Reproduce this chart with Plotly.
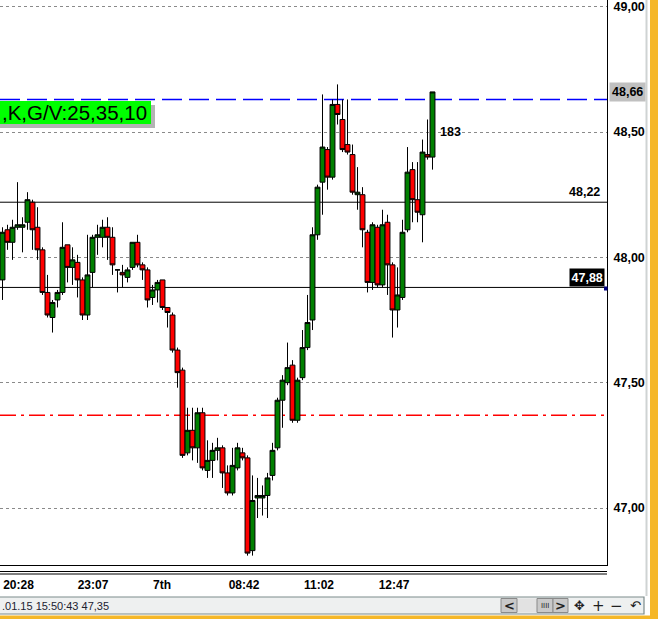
import plotly.graph_objects as go

# ---------------- data ----------------
open_ = [47.91, 48.11, 48.06, 48.12, 48.12, 48.14, 48.22, 48.12, 48.03, 47.86,
         47.76, 47.83, 47.86, 48.05, 47.96, 47.98, 47.91, 47.77, 47.94, 48.08,
         48.08, 48.12, 48.08, 47.95, 47.94, 47.92, 47.96, 48.06, 47.97, 47.95,
         47.84, 47.87, 47.91, 47.80, 47.77, 47.63, 47.55, 47.22, 47.31, 47.24,
         47.38, 47.15, 47.19, 47.23, 47.24, 47.14, 47.06, 47.16, 47.22, 47.20,
         46.83, 47.04, 47.04, 47.05, 47.13, 47.24, 47.43, 47.50, 47.57, 47.35,
         47.52, 47.64, 47.75, 48.09, 48.30, 48.43, 48.32, 48.61, 48.55, 48.45,
         48.41, 48.25, 48.25, 48.10, 47.90, 48.12, 47.89, 48.14, 47.97, 47.79,
         47.84, 48.11, 48.35, 48.23, 48.17, 48.41, 48.40]
high = [48.12, 48.13, 48.15, 48.30, 48.16, 48.26, 48.23, 48.20, 48.04, 47.93,
        47.83, 47.87, 48.14, 48.05, 48.04, 48.01, 47.92, 48.09, 48.09, 48.13,
        48.15, 48.16, 48.12, 47.95, 47.97, 47.96, 48.06, 48.09, 47.98, 47.96,
        47.89, 47.91, 47.91, 47.80, 47.78, 47.64, 47.56, 47.40, 47.40, 47.40,
        47.40, 47.27, 47.26, 47.28, 47.25, 47.17, 47.24, 47.26, 47.24, 47.21,
        47.13, 47.12, 47.09, 47.14, 47.26, 47.44, 47.53, 47.66, 47.59, 47.52,
        47.71, 47.85, 48.12, 48.29, 48.65, 48.44, 48.63, 48.69, 48.63, 48.63,
        48.45, 48.36, 48.28, 48.11, 48.14, 48.13, 48.19, 48.17, 47.98, 47.96,
        48.15, 48.44, 48.38, 48.38, 48.47, 48.55, 48.66]
low = [47.83, 48.03, 47.99, 48.11, 48.02, 48.11, 48.03, 47.99, 47.85, 47.76,
       47.70, 47.80, 47.85, 47.90, 47.89, 47.84, 47.75, 47.75, 47.88, 48.01,
       48.04, 47.99, 47.93, 47.86, 47.88, 47.90, 47.95, 47.96, 47.91, 47.80,
       47.81, 47.82, 47.79, 47.72, 47.62, 47.48, 47.20, 47.21, 47.19, 47.18,
       47.15, 47.12, 47.12, 47.19, 47.08, 47.05, 47.05, 47.15, 47.19, 46.81,
       46.81, 46.96, 46.97, 46.96, 47.11, 47.23, 47.32, 47.49, 47.34, 47.34,
       47.51, 47.63, 47.71, 48.07, 48.17, 48.27, 48.31, 48.53, 48.42, 48.41,
       48.25, 48.19, 48.04, 47.86, 47.87, 47.88, 47.88, 47.85, 47.68, 47.72,
       47.83, 48.10, 48.14, 48.14, 48.06, 48.39, 48.35]
close = [48.10, 48.06, 48.12, 48.13, 48.13, 48.23, 48.11, 48.03, 47.86, 47.77,
         47.82, 47.86, 48.04, 47.96, 47.99, 47.91, 47.77, 47.93, 48.08, 48.09,
         48.12, 48.08, 47.97, 47.95, 47.93, 47.95, 48.06, 47.97, 47.95, 47.83,
         47.87, 47.90, 47.80, 47.78, 47.63, 47.54, 47.21, 47.31, 47.24, 47.38,
         47.16, 47.19, 47.23, 47.24, 47.14, 47.06, 47.17, 47.24, 47.20, 46.82,
         47.03, 47.05, 47.05, 47.12, 47.23, 47.43, 47.51, 47.56, 47.35, 47.51,
         47.64, 47.74, 48.09, 48.28, 48.44, 48.32, 48.61, 48.57, 48.43, 48.42,
         48.26, 48.26, 48.11, 47.90, 48.13, 47.89, 48.13, 47.97, 47.79, 47.85,
         48.10, 48.34, 48.23, 48.18, 48.42, 48.40, 48.66]
bar_index = list(range(len(close)))

time_tick_pos = [3.2, 18.1, 31.9, 48.3, 63.3, 78.3]
time_tick_text = ["20:28", "23:07", "7th", "08:42", "11:02", "12:47"]

price_ticks = [47.00, 47.50, 48.00, 48.50, 49.00]
price_tick_text = ["47,00", "47,50", "48,00", "48,50", "49,00"]

black_levels = [48.22, 47.88]
black_level_text = ["48,22", "47,88"]
blue_level = 48.63
red_level = 47.37
last_price = 48.66
last_price_text = "48,66"
count_label = "183"
indicator_text = ",K,G/V:25,35,10"
status_text = ".01.15 15:50:43 47,35"

# ---------------- geometry helpers (pixel -> paper) ----------------
W, H = 658, 619
PL, PR, PT, PB = 0, 607, 0, 565
def px(x):
    return (x - PL) / (PR - PL)
def py(y):
    return (PB - y) / (PB - PT)

FONT = "Arial, Liberation Sans, sans-serif"

fig = go.Figure()
fig.add_trace(go.Candlestick(
    x=bar_index, open=open_, high=high, low=low, close=close,
    increasing=dict(line=dict(color="black", width=1), fillcolor="#008000"),
    decreasing=dict(line=dict(color="black", width=1), fillcolor="#ff0000"),
    whiskerwidth=0, showlegend=False, hoverinfo="skip",
))

shapes = []
# horizontal level lines
for lv in black_levels:
    shapes.append(dict(type="line", xref="paper", yref="y", x0=0, x1=1, y0=lv, y1=lv,
                       line=dict(color="black", width=1), layer="below"))
shapes.append(dict(type="line", xref="paper", yref="y", x0=0, x1=1, y0=blue_level, y1=blue_level,
                   line=dict(color="#0000ff", width=1.5, dash="20px,7px"), layer="below"))
shapes.append(dict(type="line", xref="paper", yref="y", x0=0, x1=1, y0=red_level, y1=red_level,
                   line=dict(color="#ff0000", width=1.3, dash="16px,5px,3px,5px"), layer="below"))
# indicator label box with shadow
shapes.append(dict(type="rect", xref="paper", yref="paper", x0=px(-5), x1=px(155), y0=py(128), y1=py(105),
                   fillcolor="#b4b4b4", line=dict(width=0), layer="above"))
shapes.append(dict(type="rect", xref="paper", yref="paper", x0=px(-5), x1=px(151), y0=py(124), y1=py(101),
                   fillcolor="#00ff00", line=dict(width=0), layer="above"))
# small marker at the 47.88 label
shapes.append(dict(type="rect", xref="paper", yref="paper", x0=px(604), x1=px(607.5), y0=py(290.5), y1=py(286.5),
                   fillcolor="#000080", line=dict(width=0), layer="above"))
# double line under the chart
for yy in (571.5, 574):
    shapes.append(dict(type="line", xref="paper", yref="paper", x0=px(0), x1=px(607), y0=py(yy), y1=py(yy),
                       line=dict(color="black", width=1)))
# status bar
shapes.append(dict(type="rect", xref="paper", yref="paper", x0=px(-5), x1=px(644), y0=py(614), y1=py(597),
                   fillcolor="#eef0f0", line=dict(color="#7d8b8b", width=1.2)))
# scrollbar parts
shapes.append(dict(type="rect", xref="paper", yref="paper", x0=px(517), x1=px(537), y0=py(612.5), y1=py(598.5),
                   fillcolor="#e2e2e2", line=dict(width=0)))
for (a, b) in ((501, 517), (537, 553), (553, 568)):
    shapes.append(dict(type="rect", xref="paper", yref="paper", x0=px(a), x1=px(b), y0=py(612.5), y1=py(598.5),
                       fillcolor="#c9c9c9", line=dict(color="#8a8a8a", width=1)))
# window frame on right and bottom
shapes.append(dict(type="line", xref="paper", yref="paper", x0=px(646.5), x1=px(646.5), y0=py(0), y1=py(596),
                   line=dict(color="#cfd3d3", width=2)))
shapes.append(dict(type="rect", xref="paper", yref="paper", x0=px(650), x1=px(660), y0=py(625), y1=py(-5),
                   fillcolor="#f5b728", line=dict(width=0)))
shapes.append(dict(type="rect", xref="paper", yref="paper", x0=px(-5), x1=px(660), y0=py(625), y1=py(615.5),
                   fillcolor="#f5b728", line=dict(width=0)))

ann = []
ann.append(dict(text=indicator_text, xref="paper", yref="paper", x=px(149), y=py(112.5),
                xanchor="right", yanchor="middle", showarrow=False,
                font=dict(family=FONT, size=20.5, color="black")))
ann.append(dict(text=black_level_text[0], xref="paper", yref="y", x=px(602), y=black_levels[0],
                xanchor="right", yanchor="bottom", yshift=1, showarrow=False,
                font=dict(family=FONT, size=12.5, color="black", weight="bold")))
ann.append(dict(text=black_level_text[1], xref="paper", yref="y", x=px(604.5), y=black_levels[1],
                xanchor="right", yanchor="bottom", yshift=0, showarrow=False, bgcolor="black", borderpad=1.5,
                font=dict(family=FONT, size=12.5, color="white", weight="bold")))
ann.append(dict(text=last_price_text, xref="paper", yref="y", x=px(609), y=last_price,
                xanchor="left", yanchor="middle", showarrow=False, bgcolor="#c0c0c0", borderpad=2,
                font=dict(family=FONT, size=12.5, color="black", weight="bold")))
ann.append(dict(text=count_label, xref="x", yref="y", x=bar_index[-1] + 3.5, y=48.50,
                xanchor="center", yanchor="middle", showarrow=False,
                font=dict(family=FONT, size=12.5, color="black", weight="bold")))
ann.append(dict(text=status_text, xref="paper", yref="paper", x=px(0), y=py(605.5),
                xanchor="left", yanchor="middle", showarrow=False,
                font=dict(family=FONT, size=11, color="#1c2230")))
for txt, xc, fs in (("<", 509, 13), ("IIII", 545, 7), (">", 560.5, 13),
                    ("✥", 579, 13), ("+", 598, 15), ("−", 616, 15), ("↶", 635, 13)):
    ann.append(dict(text=txt, xref="paper", yref="paper", x=px(xc), y=py(605.5),
                    xanchor="center", yanchor="middle", showarrow=False,
                    font=dict(family="DejaVu Sans, " + FONT, size=fs, color="#202020",
                              weight="bold" if txt in ("<", ">") else "normal")))

fig.update_layout(
    width=W, height=H, autosize=False,
    margin=dict(l=PL, r=W - PR, t=PT, b=H - PB, pad=0),
    paper_bgcolor="white", plot_bgcolor="white",
    showlegend=False, boxgap=0.02, boxgroupgap=0,
    shapes=shapes, annotations=ann,
    xaxis=dict(range=[-0.5, (PR - PL) / 5 - 0.5], rangeslider=dict(visible=False),
               showgrid=False, zeroline=False, showline=True, linecolor="black", linewidth=1,
               tickmode="array", tickvals=time_tick_pos, ticktext=time_tick_text,
               ticks="", ticklabelstandoff=9,
               tickfont=dict(family=FONT, size=12, color="black", weight="bold"), fixedrange=True),
    yaxis=dict(range=[49 - (PB - 6.7) / 250.65, 49 + 6.7 / 250.65], side="right",
               showgrid=True, gridcolor="#8a8a8a", gridwidth=1, griddash="3px,3px",
               zeroline=False, showline=True, linecolor="black", linewidth=1,
               tickmode="array", tickvals=price_ticks, ticktext=price_tick_text,
               ticks="", ticklabelstandoff=3,
               tickfont=dict(family=FONT, size=12.5, color="black", weight="bold"), fixedrange=True),
)

fig.write_html("out.html", config={"displayModeBar": False},
               post_script="document.body.style.margin='0';document.body.style.padding='0';document.body.style.overflow='hidden';")
